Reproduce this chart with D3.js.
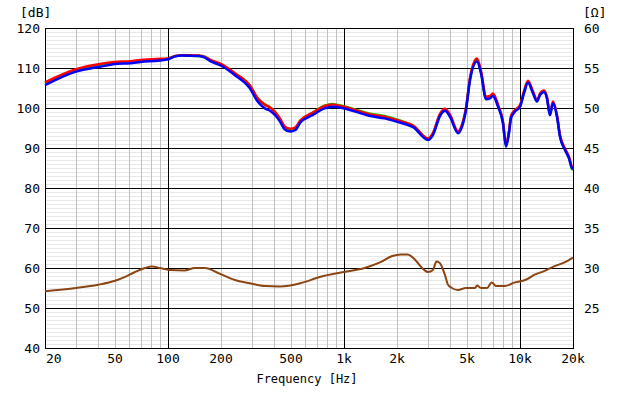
<!DOCTYPE html>
<html>
<head>
<meta charset="utf-8">
<script src="https://cdn.jsdelivr.net/npm/d3@7"></script>
<style>
  body { margin: 0; background: #fff; }
  svg text { font-family: "DejaVu Sans Mono", monospace; fill: #000; }
</style>
</head>
<body>
<div class="canva"></div>
<script>
// frequency points (Hz) for the SPL curves
const splFreq = [20, 30, 41, 50, 61, 70, 90, 100, 110, 120, 150, 162, 173, 202, 240, 292, 323, 355, 380, 406,
  433, 460, 494, 530, 565, 662, 776, 857,
  1000, 1411, 1700, 2100, 2471, 3003, 3204, 3510, 3748, 4000, 4443, 4678, 4932, 5200, 5696, 6000, 6408, 6752,
  7020, 7500, 8000, 8320, 8654, 8892, 9360, 10000, 10536, 11100, 11850, 12480, 12980, 13680, 14220, 14790,
  15390, 16220, 16870, 18010, 18970, 19730, 20000];

const splBlue = [105.7, 109.1, 110.3, 111.0, 111.2, 111.5, 111.9, 112.2, 112.9, 113.1, 113.0, 112.6, 111.8, 110.5,
  108.2, 104.9, 101.6, 99.9, 99.3, 98.2, 96.6, 94.7, 94.1, 94.5, 96.4, 98.2, 99.9, 100.3,
  99.9, 98.0, 97.4, 96.3, 95.2, 92.0, 93.3, 98.0, 99.3, 97.8, 93.7, 95.3,
  99.5, 107.0, 111.6, 108.7, 102.2, 102.4, 103.0, 100.3, 96.2, 90.3, 93.7, 97.5, 99.1, 100.3, 103.7, 106.3, 103.7,
  101.6, 103.2, 104.0, 102.4, 98.2, 101.2, 97.8, 92.8, 89.5, 87.4, 85.0, 84.8];

const splRed = [106.4, 109.7, 111.0, 111.5, 111.7, 112.0, 112.3, 112.4, 113.0, 113.2, 113.1, 112.8, 112.1, 110.9,
  108.7, 105.6, 102.4, 100.8, 100.1, 99.0, 97.3, 95.4, 94.8, 95.2, 96.9, 98.8, 100.5, 100.9,
  100.3, 98.4, 97.8, 96.7, 95.6, 92.4, 93.8, 98.5, 99.8, 98.3, 94.2, 95.8,
  100.0, 107.6, 112.4, 109.3, 102.8, 103.0, 103.6, 100.8, 96.6, 90.8, 94.2, 98.0, 99.5, 100.7, 104.2, 106.8, 104.1,
  102.0, 103.6, 104.4, 102.8, 98.6, 101.6, 98.2, 93.2, 89.9, 87.8, 85.4, 85.2];

const splGreen = [106.1, 109.4, 110.8, 111.3, 111.5, 111.8, 112.1, 112.3, 113.0, 113.1, 113.0, 112.8, 112.0, 110.8,
  108.6, 105.6, 102.5, 100.9, 100.2, 99.0, 97.1, 95.2, 94.5, 94.9, 96.7, 98.8, 100.6, 101.0,
  100.4, 98.6, 98.0, 96.8, 95.6, 92.3, 93.6, 98.3, 99.6, 98.1, 94.0, 95.6,
  99.8, 107.3, 112.0, 109.0, 102.5, 102.7, 103.3, 100.6, 96.4, 90.6, 94.0, 97.8, 99.3, 100.5, 104.0, 106.5, 103.9,
  101.8, 103.4, 104.2, 102.6, 98.4, 101.4, 98.0, 93.0, 89.6, 87.5, 84.8, 84.5];

// impedance curve (Ohm)
const impFreq = [20, 30, 40, 50, 57, 65, 74, 81, 90, 102, 124, 142, 162, 196, 240, 292, 355, 433, 565, 735,
  1000, 1310, 1600, 1880, 2100, 2300, 2540, 2780, 3003, 3200, 3350, 3510, 3748, 3900, 4100, 4443, 4920, 5555,
  5696, 6000, 6500, 6900, 7300, 8200, 9370, 10700, 12200, 13700, 15600, 17900, 20000];
const impOhm = [27.1, 27.5, 27.9, 28.4, 28.9, 29.5, 30.0, 30.2, 30.0, 29.75, 29.7, 30.0, 30.0, 29.3, 28.5, 28.1,
  27.75, 27.7, 28.1, 28.9, 29.5, 30.0, 30.7, 31.5, 31.7, 31.7, 31.0, 30.0, 29.5, 29.75, 30.8, 30.6, 29.1, 27.9,
  27.5, 27.25, 27.5, 27.5, 27.8, 27.5, 27.5, 28.2, 27.75, 27.75, 28.2, 28.5, 29.2, 29.6, 30.2, 30.7, 31.3];

const xTicks = [20, 50, 100, 200, 500, 1000, 2000, 5000, 10000, 20000];
const xTickLabels = ['20', '50', '100', '200', '500', '1k', '2k', '5k', '10k', '20k'];
const dbTicks = [40, 50, 60, 70, 80, 90, 100, 110, 120];
const ohmTicks = [25, 30, 35, 40, 45, 50, 55, 60];

const W = 620, H = 396;
const pLeft = 45, pRight = 573, pTop = 28, pBottom = 348;

const svg = d3.select('.canva').append('svg')
  .attr('width', W)
  .attr('height', H);

const x = d3.scaleLog().domain([20, 20000]).range([pLeft, pRight]);
const yDb = d3.scaleLinear().domain([40, 120]).range([pBottom, pTop]);
const yOhm = d3.scaleLinear().domain([20, 60]).range([pBottom, pTop]);

// minor horizontal grid, every 1 dB
svg.append('g').selectAll('line')
  .data(d3.range(41, 120).filter(d => d % 10 != 0))
  .enter().append('line')
  .attr('x1', pLeft).attr('x2', pRight)
  .attr('y1', d => Math.round(yDb(d)) + 0.5).attr('y2', d => Math.round(yDb(d)) + 0.5)
  .attr('stroke', '#e8e8e8');

// minor vertical grid (2..9 times each decade)
const minorF = [];
[10, 100, 1000].forEach(dec => {
  for (let m = 2; m <= 9; m++) minorF.push(dec * m);
});
svg.append('g').selectAll('line')
  .data(minorF.filter(f => f > 20))
  .enter().append('line')
  .attr('x1', d => Math.round(x(d)) + 0.5).attr('x2', d => Math.round(x(d)) + 0.5)
  .attr('y1', pTop).attr('y2', pBottom)
  .attr('stroke', '#c0c0c0');

// major grid
svg.append('g').selectAll('line')
  .data(dbTicks.slice(1, -1))
  .enter().append('line')
  .attr('x1', pLeft).attr('x2', pRight)
  .attr('y1', d => Math.round(yDb(d)) + 0.5).attr('y2', d => Math.round(yDb(d)) + 0.5)
  .attr('stroke', '#000');
svg.append('g').selectAll('line')
  .data([100, 1000, 10000])
  .enter().append('line')
  .attr('x1', d => Math.round(x(d)) + 0.5).attr('x2', d => Math.round(x(d)) + 0.5)
  .attr('y1', pTop).attr('y2', pBottom)
  .attr('stroke', '#000');

svg.append('rect')
  .attr('x', pLeft + 0.5).attr('y', pTop + 0.5)
  .attr('width', pRight - pLeft).attr('height', pBottom - pTop)
  .attr('fill', 'none').attr('stroke', '#000');

// curves
const plotG = svg.append('g');
function drawCurve(freqs, vals, yScale, color, width) {
  const line = d3.line()
    .x((d, i) => x(freqs[i]))
    .y(d => yScale(d))
    .curve(d3.curveMonotoneX);
  plotG.append('path')
    .datum(vals)
    .attr('d', line)
    .attr('fill', 'none')
    .attr('stroke', color)
    .attr('stroke-width', width)
    .attr('stroke-linejoin', 'round');
}
drawCurve(impFreq, impOhm, yOhm, '#8b4513', 2);
drawCurve(splFreq, splGreen, yDb, '#00dd00', 2.5);
drawCurve(splFreq, splRed, yDb, '#ff0000', 2.5);
drawCurve(splFreq, splBlue, yDb, '#0000ff', 2.5);

// left axis labels
svg.append('g').selectAll('text')
  .data(dbTicks)
  .enter().append('text')
  .attr('x', 40).attr('y', d => yDb(d) + 5)
  .attr('text-anchor', 'end')
  .attr('font-size', 13)
  .text(d => d);

// right axis labels
svg.append('g').selectAll('text')
  .data(ohmTicks)
  .enter().append('text')
  .attr('x', 584).attr('y', d => yOhm(d) + 5)
  .attr('font-size', 13)
  .text(d => d);

// x labels
svg.append('g').selectAll('text')
  .data(xTicks)
  .enter().append('text')
  .attr('x', (d, i) => i == 0 ? pLeft + 1 : x(d))
  .attr('y', 363)
  .attr('text-anchor', (d, i) => i == 0 ? 'start' : 'middle')
  .attr('font-size', 13)
  .text((d, i) => xTickLabels[i]);

svg.append('text').attr('x', 20).attr('y', 17).attr('font-size', 13).text('[dB]');
svg.append('text').attr('x', 583).attr('y', 17).attr('font-size', 13).text('[Ω]');
svg.append('text').attr('x', 307).attr('y', 383).attr('text-anchor', 'middle')
  .attr('font-size', 12).text('Frequency [Hz]');
</script>
</body>
</html>
